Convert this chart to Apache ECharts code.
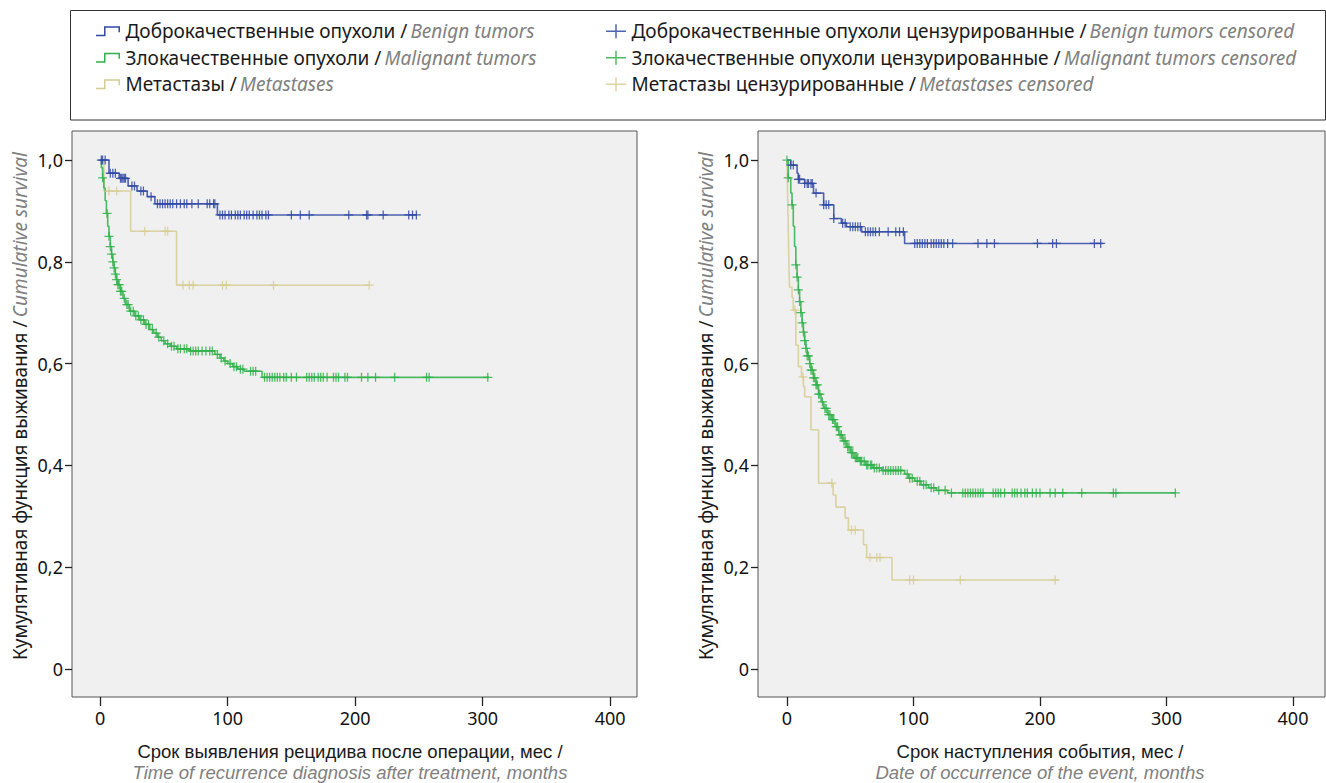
<!DOCTYPE html>
<html>
<head>
<meta charset="utf-8">
<script src="https://cdn.jsdelivr.net/npm/echarts@6/dist/echarts.min.js"></script>
<style>
html,body{margin:0;padding:0;background:#fff;}
#c{width:1326px;height:783px;}
</style>
</head>
<body>
<div id="c"></div>
<script>
// ---------- DATA ----------
const groupNames = [
  'Доброкачественные опухоли / Benign tumors',
  'Злокачественные опухоли / Malignant tumors',
  'Метастазы / Metastases'
];
const censorNames = [
  'Доброкачественные опухоли цензурированные / Benign tumors censored',
  'Злокачественные опухоли цензурированные / Malignant tumors censored',
  'Метастазы цензурированные / Metastases censored'
];
const xTicks = [0, 100, 200, 300, 400];
const yTicks = [0, 0.2, 0.4, 0.6, 0.8, 1.0];

// Left chart: time of recurrence
const L_benignT = [0, 7, 15, 22, 29, 37, 43, 92];
const L_benignS = [1, 0.974, 0.964, 0.949, 0.939, 0.928, 0.914, 0.892];
const L_benignEnd = 248;
const L_benignC = [1,2,4,8,10,12,16,17,18,19,20,25,27,32,34,40,45,47,49,51,53,55,57,60,63,66,68,72,77,84,86,89,90,
  94,96,98,101,103,106,108,110,113,115,117,120,123,125,127,130,132,150,157,164,195,209,210,222,242,245,248];

const L_malT = [0,1,2,3,4,5,6,7,8,9,10,11,12,13,14,16,18,20,23,27,31,35,39,42,45,48,51,55,60,70,90,94,97,100,104,108,113,127];
const L_malS = [1,0.985,0.965,0.945,0.92,0.895,0.87,0.85,0.83,0.815,0.80,0.788,0.776,0.765,0.755,0.742,0.728,0.716,0.703,0.694,0.686,0.677,0.667,0.66,0.652,0.645,0.639,0.634,0.629,0.625,0.618,0.611,0.605,0.600,0.594,0.589,0.585,0.573];
const L_malEnd = 305;
const L_malC = [2,5.5,7,8,9,10,11,12,13,14,15,16,17,19,21,22,24,26,28,30,32,34,36,38,41,44,46,50,53,56,58,61,63,66,68,71,73,75,77,80,83,86,88,92,95,98,102,105,107,110,112,118,120,122,
  129,131,133,135,137,139,141,144,146,150,154,162,164,166,168,171,173,175,178,183,185,187,192,194,205,210,216,231,256,258,304];

const L_metT = [0, 3, 24, 60];
const L_metS = [1, 0.939, 0.86, 0.754];
const L_metEnd = 211;
const L_metC = [7,13,35,51,53,65,70,73,96,99,136,211];

// Right chart: date of occurrence of the event
const R_benignT = [0,3,8,9,14,21,29,37,43,47,59,93];
const R_benignS = [1,0.99,0.974,0.962,0.954,0.935,0.912,0.885,0.876,0.869,0.859,0.836];
const R_benignEnd = 250;
const R_benignC = [3,5,9,10,14,16,17,19,20,23,29,31,33,37,44,46,50,52,54,56,58,62,64,66,68,70,73,80,86,89,92,
  101,103,105,107,109,111,114,116,118,120,122,124,127,131,151,158,164,198,210,213,243,248];

const R_malT = [0,1,3,4,5,6,7,8,9,10,11,12,13,14,15,16,18,19,21,23,25,27,29,32,35,38,41,44,47,50,53,57,62,68,75,93,96,101,106,112,118,127];
const R_malS = [1,0.965,0.935,0.912,0.87,0.83,0.794,0.77,0.745,0.722,0.70,0.68,0.662,0.645,0.63,0.615,0.60,0.587,0.572,0.558,0.54,0.525,0.512,0.50,0.49,0.476,0.46,0.448,0.436,0.425,0.415,0.408,0.401,0.395,0.39,0.383,0.375,0.369,0.362,0.356,0.351,0.346];
const R_malEnd = 307;
const R_malC = [0,1,4,7,8,9,10,11,12,13,14,15,16,17,18,19,20,21,22,23,24,25,26,28,30,31,33,34,36,37,39,40,42,43,45,46,48,49,51,52,54,55,56,58,59,61,63,64,66,67,69,71,73,76,78,80,82,84,86,88,90,95,97,99,103,105,108,110,114,116,120,125,
  130,139,141,143,145,147,149,151,153,155,163,165,167,169,172,178,180,182,185,188,190,194,197,200,208,212,218,233,258,260,307];

const R_metT = [0,0.5,1,1.5,2,4,5,7,9,11.5,13,14,19,25,36.5,38.7,46,48.5,60.5,63,83];
const R_metS = [1,0.93,0.87,0.80,0.75,0.73,0.705,0.636,0.594,0.574,0.555,0.535,0.47,0.365,0.342,0.318,0.297,0.273,0.244,0.219,0.175];
const R_metEnd = 215;
const R_metC = [6.3,12.6,35.5,51,54,65.6,71,73.5,97,100,137,212];

// ---------- STYLE ----------
const colors = ['#3049a3', '#2fb049', '#d6cc92'];
const FONT = 'Noto Sans';
const TFONT = 'Liberation Sans';
const FS = 19;
const plusPath = 'path://M-0.7,-5H0.7V-0.7H5V0.7H0.7V5H-0.7V0.7H-5V-0.7H-0.7Z';
const stepIcon = 'path://M0,8.5H8V0H24V6H22.5V1.5H9.5V10H0Z';
const plusIcon = 'path://M0,6.25H9.25V0H10.75V6.25H20V7.75H10.75V14H9.25V7.75H0Z';

function survAt(T, S, t) {
  let v = S[0];
  for (let i = 0; i < T.length; i++) { if (T[i] <= t) v = S[i]; }
  return v;
}
function kmData(T, S, end) {
  const d = T.map((t, i) => [t, S[i]]);
  d.push([end, S[S.length - 1]]);
  return d;
}
function censorData(T, S, C) { return C.map(t => [t, survAt(T, S, t)]); }

const charts = [
  { groups: [[L_benignT, L_benignS, L_benignEnd, L_benignC], [L_malT, L_malS, L_malEnd, L_malC], [L_metT, L_metS, L_metEnd, L_metC]] },
  { groups: [[R_benignT, R_benignS, R_benignEnd, R_benignC], [R_malT, R_malS, R_malEnd, R_malC], [R_metT, R_metS, R_metEnd, R_metC]] }
];

const grids = [
  { left: 72, top: 131, width: 565, height: 566 },
  { left: 758, top: 131, width: 567, height: 566 }
];
const xRanges = [[-22, 421], [-22.9, 425.3]];

const series = [];
const drawOrder = [2, 1, 0];
charts.forEach((ch, ci) => {
  drawOrder.forEach(g => {
    const [T, S, end] = ch.groups[g];
    series.push({
      type: 'line', name: groupNames[g], xAxisIndex: ci, yAxisIndex: ci,
      step: 'end', showSymbol: false, symbol: 'none', silent: true,
      data: kmData(T, S, end), color: colors[g],
      lineStyle: { color: colors[g], width: 1.6, opacity: 0.85 }, z: 2 + (2 - g)
    });
  });
  drawOrder.forEach(g => {
    const [T, S, , C] = ch.groups[g];
    series.push({
      type: 'scatter', name: censorNames[g], xAxisIndex: ci, yAxisIndex: ci,
      symbol: plusPath, symbolSize: [9, 9], silent: true,
      data: censorData(T, S, C), color: colors[g],
      itemStyle: { color: colors[g], opacity: 0.85 }, z: 5 + (2 - g)
    });
  });
});

function legendFmt(name) {
  const p = name.split(' / ');
  return '{a|' + p[0] + ' /} {b|' + p[1] + '}';
}
const DARK = '#1a1a1a', GREY = '#808080';
const legendRich = {
  a: { fontFamily: FONT, fontSize: FS, color: DARK, fill: DARK },
  b: { fontFamily: FONT, fontSize: FS, color: GREY, fill: GREY, fontStyle: 'italic' }
};
const TS = 18.5;

const option = {
  animation: false,
  backgroundColor: '#ffffff',
  textStyle: { fontFamily: FONT },
  grid: grids.map(g => Object.assign({ show: true, backgroundColor: '#f0f0f0', borderColor: '#555', borderWidth: 1 }, g)),
  xAxis: [0, 1].map(i => ({
    type: 'value', gridIndex: i, min: xRanges[i][0], max: xRanges[i][1],
    axisLine: { show: false, onZero: false },
    axisTick: { show: true, customValues: xTicks, length: 9, lineStyle: { color: '#222', width: 1.3 } },
    axisLabel: { customValues: xTicks, margin: 12, fontFamily: FONT, fontSize: 18, color: '#111' },
    splitLine: { show: false }
  })),
  yAxis: [0, 1].map(i => ({
    type: 'value', gridIndex: i, min: -0.055, max: 1.057,
    axisLine: { show: false, onZero: false },
    axisTick: { show: true, customValues: yTicks, length: 7, lineStyle: { color: '#222', width: 1.3 } },
    axisLabel: { customValues: yTicks, margin: 9, fontFamily: FONT, fontSize: 18, color: '#111',
      formatter: v => (Math.abs(v) < 1e-9 ? '0' : v.toFixed(1).replace('.', ',')) },
    splitLine: { show: false }
  })),
  legend: [
    {
      left: 91, top: 13, orient: 'vertical', itemGap: 0, itemWidth: 25, itemHeight: 10,
      data: groupNames.map(n => ({ name: n, icon: stepIcon })),
      formatter: legendFmt, textStyle: { rich: legendRich, lineHeight: 26.5, height: 26.5 }, selectedMode: false
    },
    {
      left: 601, top: 13, orient: 'vertical', itemGap: 0, itemWidth: 21, itemHeight: 14,
      data: censorNames.map(n => ({ name: n, icon: plusIcon })),
      formatter: legendFmt, textStyle: { rich: legendRich, lineHeight: 26.5, height: 26.5 }, selectedMode: false
    }
  ],
  graphic: [
    { type: 'rect', shape: { x: 70.5, y: 10.5, width: 1255, height: 109.5 }, style: { fill: 'none', stroke: '#333', lineWidth: 1 }, silent: true },
    { type: 'text', x: 20, y: 406, rotation: Math.PI / 2, silent: true,
      style: { text: '{a|Кумулятивная функция выживания /} {b|Cumulative survival}', align: 'center', verticalAlign: 'middle', rich: legendRich } },
    { type: 'text', x: 706, y: 406, rotation: Math.PI / 2, silent: true,
      style: { text: '{a|Кумулятивная функция выживания /} {b|Cumulative survival}', align: 'center', verticalAlign: 'middle', rich: legendRich } },
    { type: 'text', x: 350, y: 751, silent: true,
      style: { text: 'Срок выявления рецидива после операции, мес /', align: 'center', verticalAlign: 'middle', fontFamily: TFONT, fontSize: TS, fill: DARK } },
    { type: 'text', x: 350, y: 772, silent: true,
      style: { text: 'Time of recurrence diagnosis after treatment, months', align: 'center', verticalAlign: 'middle', fontFamily: TFONT, fontSize: TS, fontStyle: 'italic', fill: GREY } },
    { type: 'text', x: 1040, y: 751, silent: true,
      style: { text: 'Срок наступления события, мес /', align: 'center', verticalAlign: 'middle', fontFamily: TFONT, fontSize: TS, fill: DARK } },
    { type: 'text', x: 1040, y: 772, silent: true,
      style: { text: 'Date of occurrence of the event, months', align: 'center', verticalAlign: 'middle', fontFamily: TFONT, fontSize: TS, fontStyle: 'italic', fill: GREY } }
  ],
  series: series
};

const chart = echarts.init(document.getElementById('c'), null, { renderer: 'svg' });
chart.setOption(option);
</script>
</body>
</html>
